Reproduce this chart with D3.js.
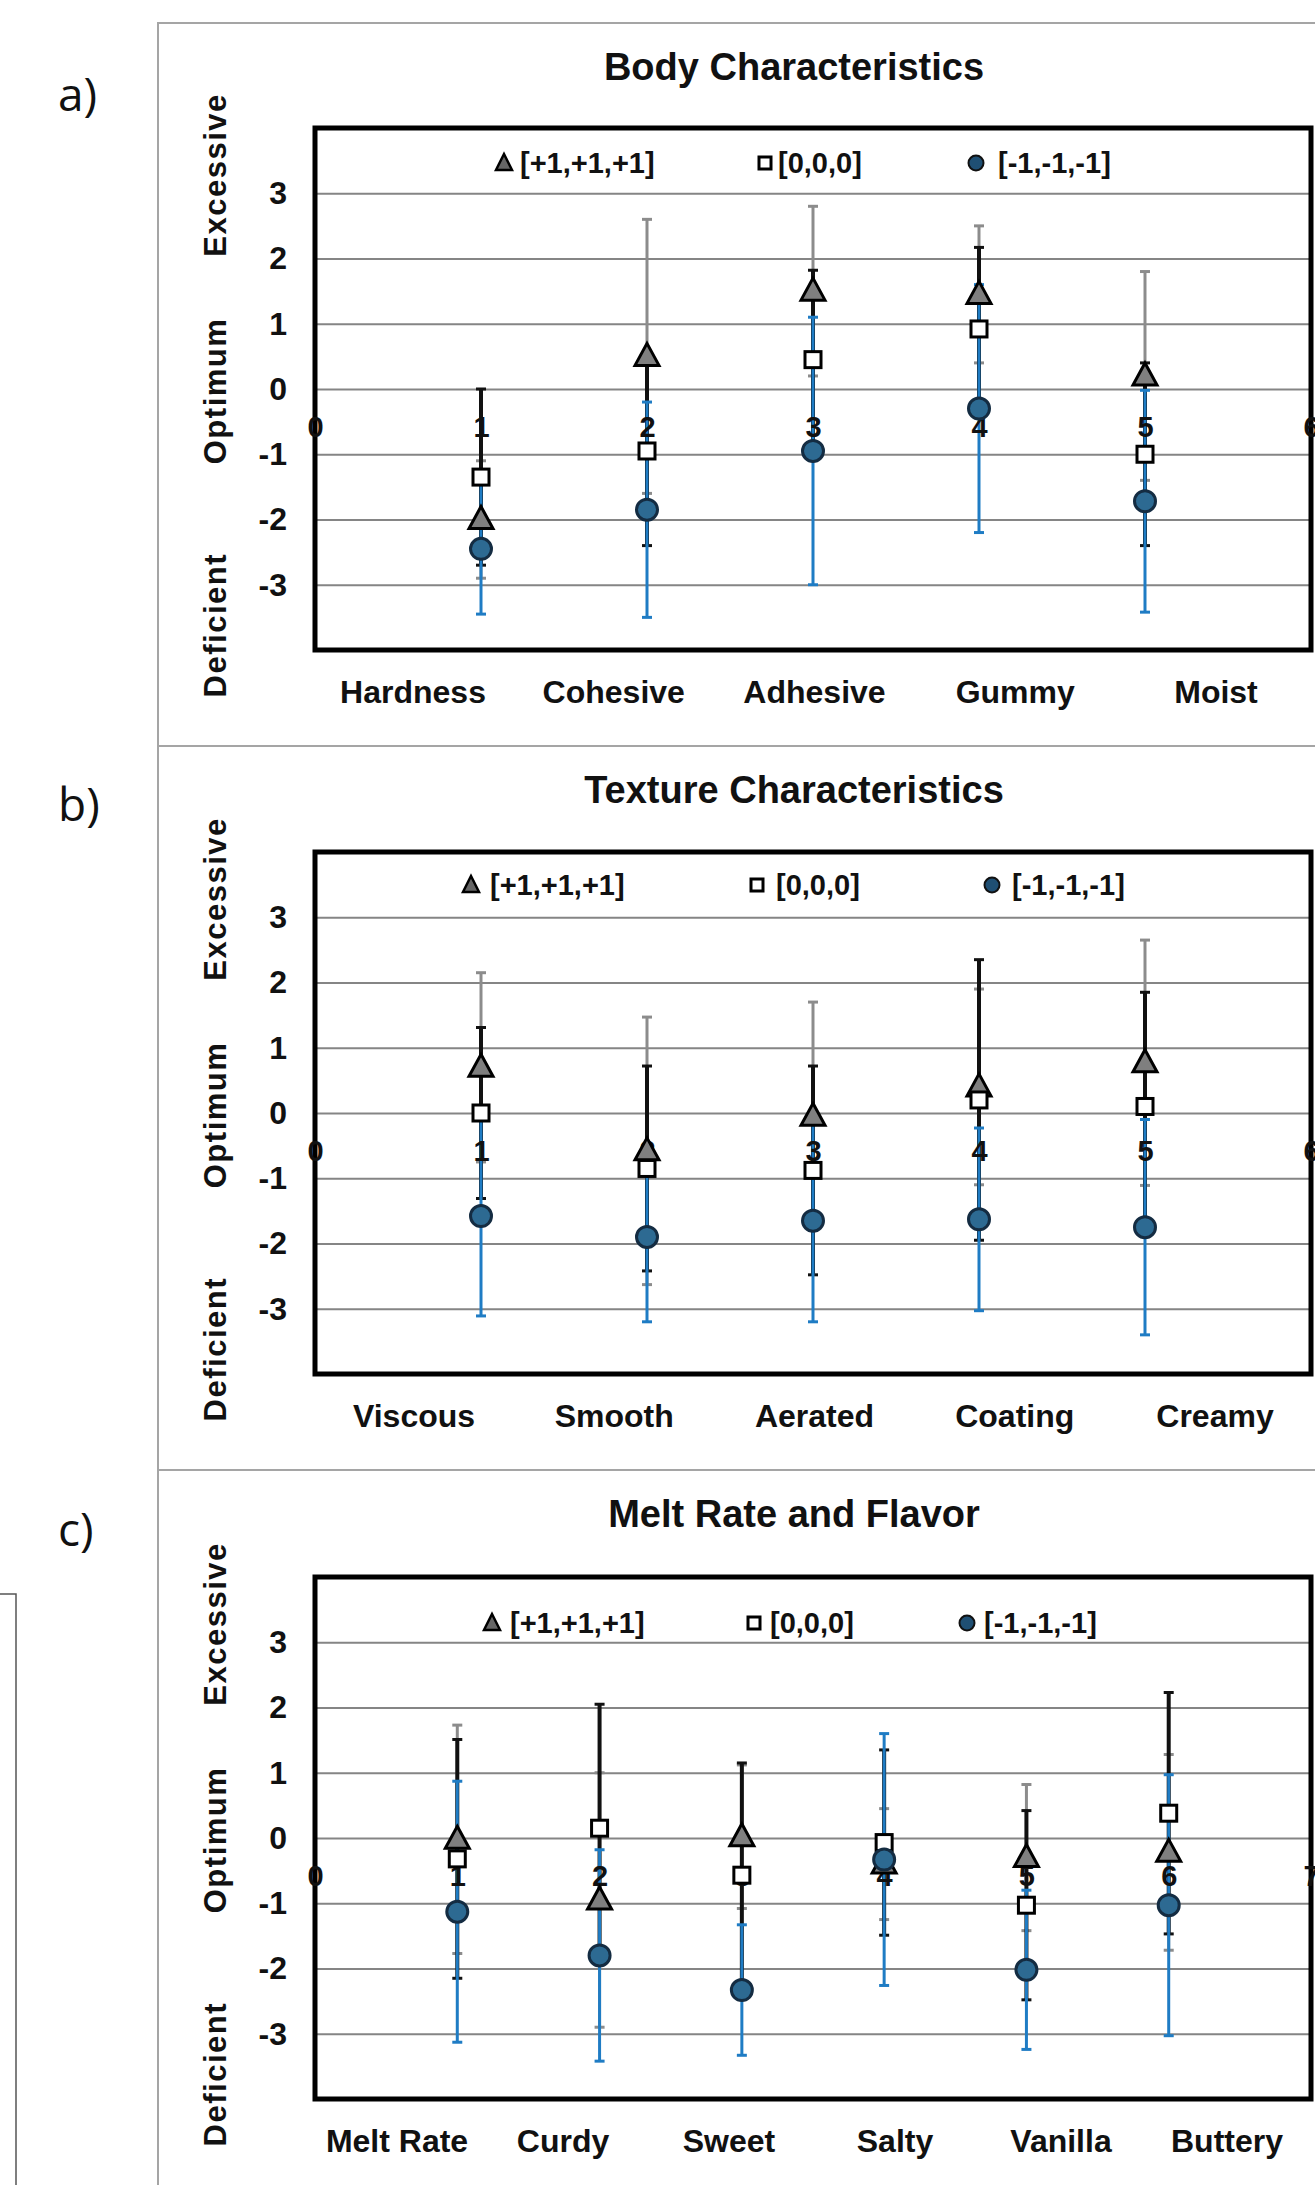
<!DOCTYPE html>
<html>
<head>
<meta charset="utf-8">
<script src="https://cdn.jsdelivr.net/npm/d3@7"></script>
<style>
body { margin: 0; background: #fff; }
svg { display: block; }
text { font-family: "Liberation Sans", Arial, sans-serif; font-weight: bold; fill: #111; }
.letter { font-family: "Open Sans", sans-serif; font-weight: normal; font-size: 46px; }
</style>
</head>
<body>
<svg id="chart" width="1315" height="2185"></svg>
<script>
// ---- data (mean and standard deviation per attribute) ----
const legendLabels = ['[+1,+1,+1]', '[0,0,0]', '[-1,-1,-1]'];
const yTicks = [-3, -2, -1, 0, 1, 2, 3];
const zoneLabels = ['Excessive', 'Optimum', 'Deficient'];

const bodyCats = ['Hardness', 'Cohesive', 'Adhesive', 'Gummy', 'Moist'];
const bodyPlus = [-2.0, 0.5, 1.5, 1.45, 0.2];
const bodyPlusSd = [0.9, 2.1, 1.3, 1.05, 1.6];
const bodyZero = [-1.35, -0.95, 0.45, 0.92, -1.0];
const bodyZeroSd = [1.35, 1.45, 1.37, 1.25, 1.4];
const bodyMinus = [-2.45, -1.85, -0.95, -0.3, -1.72];
const bodyMinusSd = [1.0, 1.65, 2.05, 1.9, 1.7];

const textureCats = ['Viscous', 'Smooth', 'Aerated', 'Coating', 'Creamy'];
const texturePlus = [0.7, -0.58, -0.05, 0.4, 0.77];
const texturePlusSd = [1.45, 2.05, 1.75, 1.5, 1.88];
const textureZero = [0.0, -0.85, -0.88, 0.2, 0.1];
const textureZeroSd = [1.31, 1.57, 1.6, 2.15, 1.75];
const textureMinus = [-1.58, -1.9, -1.65, -1.63, -1.75];
const textureMinusSd = [1.53, 1.3, 1.55, 1.4, 1.65];

const flavorCats = ['Melt Rate', 'Curdy', 'Sweet', 'Salty', 'Vanilla', 'Buttery'];
const flavorPlus = [-0.02, -0.95, 0.02, -0.4, -0.3, -0.22];
const flavorPlusSd = [1.75, 1.95, 1.1, 0.85, 1.12, 1.5];
const flavorZero = [-0.32, 0.15, -0.57, -0.07, -1.03, 0.38];
const flavorZeroSd = [1.83, 1.9, 1.72, 1.42, 1.45, 1.85];
const flavorMinus = [-1.13, -1.8, -2.33, -0.33, -2.02, -1.03];
const flavorMinusSd = [2.0, 1.62, 1.0, 1.93, 1.22, 2.0];

// ---- panel layout ----
const panels = [
  { letter: 'a)', title: 'Body Characteristics', cats: bodyCats,
    plus: bodyPlus, plusSd: bodyPlusSd, zero: bodyZero, zeroSd: bodyZeroSd, minus: bodyMinus, minusSd: bodyMinusSd,
    boxTop: 23, boxH: 723, letterY: 95, plotTop: 128, labelRange: [413, 1216],
    legendY: 163, legendSym: [504, 765, 976], legendText: [520, 778, 998] },
  { letter: 'b)', title: 'Texture Characteristics', cats: textureCats,
    plus: texturePlus, plusSd: texturePlusSd, zero: textureZero, zeroSd: textureZeroSd, minus: textureMinus, minusSd: textureMinusSd,
    boxTop: 746, boxH: 724, letterY: 805, plotTop: 852, labelRange: [414, 1215],
    legendY: 885, legendSym: [471, 757, 992], legendText: [490, 776, 1012] },
  { letter: 'c)', title: 'Melt Rate and Flavor', cats: flavorCats,
    plus: flavorPlus, plusSd: flavorPlusSd, zero: flavorZero, zeroSd: flavorZeroSd, minus: flavorMinus, minusSd: flavorMinusSd,
    boxTop: 1470, boxH: 760, letterY: 1530, plotTop: 1577, labelRange: [397, 1227],
    legendY: 1623, legendSym: [492, 754, 967], legendText: [510, 770, 984] }
];

const svg = d3.select('#chart');
const plotLeft = 315, plotRight = 1311, plotH = 522;
const barColor = { plus: '#8c8c8c', zero: '#111111', minus: '#1f7cc4' };
const triPath = 'M0,-13L12,9L-12,9Z';

// stray frame on the left edge of the page
svg.append('path')
  .attr('d', 'M0,1594H16V2185')
  .attr('fill', 'none').attr('stroke', '#555').attr('stroke-width', 1.5);

panels.forEach(drawPanel);

function drawPanel(p) {
  const g = svg.append('g');
  const n = p.cats.length;
  const x = d3.scaleLinear().domain([0, n + 1]).range([plotLeft, plotRight]);
  const y = d3.scaleLinear().domain([-4, 4]).range([p.plotTop + plotH, p.plotTop]);
  const labelX = d3.scalePoint().domain(p.cats).range(p.labelRange);

  // outer frame of the panel
  g.append('rect')
    .attr('x', 158).attr('y', p.boxTop)
    .attr('width', 1200).attr('height', p.boxH)
    .attr('fill', 'none').attr('stroke', '#a5a5a5').attr('stroke-width', 2);

  svg.append('text').attr('class', 'letter')
    .attr('x', 58).attr('y', p.letterY).attr('dy', '0.35em')
    .text(p.letter);

  g.append('text')
    .attr('x', 794).attr('y', p.boxTop + 57)
    .attr('text-anchor', 'middle').style('font-size', '38px')
    .text(p.title);

  // gridlines
  g.append('g')
    .attr('transform', `translate(${plotLeft},0)`)
    .call(d3.axisLeft(y).tickValues(yTicks).tickSize(-(plotRight - plotLeft)).tickFormat(''))
    .call(a => a.select('.domain').remove())
    .selectAll('line').attr('stroke', '#858585').attr('stroke-width', 2);

  // y tick labels
  g.append('g')
    .attr('transform', `translate(${plotLeft},0)`)
    .call(d3.axisLeft(y).tickValues(yTicks).tickSize(0).tickPadding(28).tickFormat(d => String(d)))
    .call(a => a.select('.domain').remove())
    .selectAll('text').style('font-size', '32px');

  // zone titles along the y axis
  const zoneY = [y(3.28), y(-0.03), y(-3.62)];
  g.selectAll('.zone')
    .data(zoneLabels)
    .enter()
    .append('text')
    .attr('class', 'zone')
    .attr('transform', (d, i) => `translate(226,${zoneY[i]}) rotate(-90)`)
    .attr('text-anchor', 'middle')
    .style('font-size', '31px')
    .style('letter-spacing', '1.5px')
    .text(d => d);

  // plot border
  g.append('rect')
    .attr('x', plotLeft).attr('y', p.plotTop)
    .attr('width', plotRight - plotLeft).attr('height', plotH)
    .attr('fill', 'none').attr('stroke', '#000').attr('stroke-width', 5);

  // error bars: grey for +1, black for 0, blue for -1
  ['plus', 'zero', 'minus'].forEach(key => {
    const rows = p[key].map((m, i) => ({ i: i + 1, lo: m - p[key + 'Sd'][i], hi: m + p[key + 'Sd'][i] }));
    const bars = g.append('g').attr('stroke', barColor[key]);
    bars.selectAll('.bar').data(rows).enter().append('line')
      .attr('x1', d => x(d.i)).attr('x2', d => x(d.i))
      .attr('y1', d => y(d.lo)).attr('y2', d => y(d.hi))
      .attr('stroke-width', key === 'zero' ? 4 : 3);
    ['lo', 'hi'].forEach(end => {
      bars.selectAll('.cap-' + end).data(rows).enter().append('line')
        .attr('x1', d => x(d.i) - 5).attr('x2', d => x(d.i) + 5)
        .attr('y1', d => y(d[end])).attr('y2', d => y(d[end]))
        .attr('stroke-width', 3);
    });
  });

  // category numbers sitting on the horizontal axis
  const numAxis = g.append('g')
    .attr('transform', `translate(0,${y(-0.57)})`)
    .call(d3.axisBottom(x).tickValues(d3.range(0, n + 2)).tickSize(0).tickPadding(0).tickFormat(d => String(d)));
  numAxis.select('.domain').remove();
  numAxis.selectAll('text').attr('y', 0).attr('dy', '0.36em').style('font-size', '29px');

  // markers
  g.selectAll('.tri').data(p.plus).enter().append('path')
    .attr('d', triPath)
    .attr('transform', (d, i) => `translate(${x(i + 1)},${y(d)})`)
    .attr('fill', '#7f7f7f').attr('stroke', '#000').attr('stroke-width', 3);

  g.selectAll('.sq').data(p.zero).enter().append('rect')
    .attr('x', (d, i) => x(i + 1) - 8).attr('y', d => y(d) - 8)
    .attr('width', 16).attr('height', 16)
    .attr('fill', '#fff').attr('stroke', '#000').attr('stroke-width', 3);

  g.selectAll('.dot').data(p.minus).enter().append('circle')
    .attr('cx', (d, i) => x(i + 1)).attr('cy', d => y(d)).attr('r', 10.5)
    .attr('fill', '#2d6a92').attr('stroke', '#142c42').attr('stroke-width', 3);

  // legend
  const ly = p.legendY;
  g.append('path').attr('d', 'M0,-9L8,7L-8,7Z')
    .attr('transform', `translate(${p.legendSym[0]},${ly})`)
    .attr('fill', '#666').attr('stroke', '#000').attr('stroke-width', 2.5);
  g.append('rect').attr('x', p.legendSym[1] - 6).attr('y', ly - 6)
    .attr('width', 12).attr('height', 12)
    .attr('fill', '#fff').attr('stroke', '#000').attr('stroke-width', 3);
  g.append('circle').attr('cx', p.legendSym[2]).attr('cy', ly).attr('r', 7.5)
    .attr('fill', '#1f4f73').attr('stroke', '#111').attr('stroke-width', 2);
  g.selectAll('.leg').data(legendLabels).enter().append('text')
    .attr('x', (d, i) => p.legendText[i]).attr('y', ly + 10)
    .style('font-size', '29px')
    .text(d => d);

  // category names under the plot
  g.selectAll('.cat').data(p.cats).enter().append('text')
    .attr('x', d => labelX(d)).attr('y', p.plotTop + plotH + 53)
    .attr('text-anchor', 'middle').style('font-size', '32px')
    .text(d => d);
}
</script>
</body>
</html>
